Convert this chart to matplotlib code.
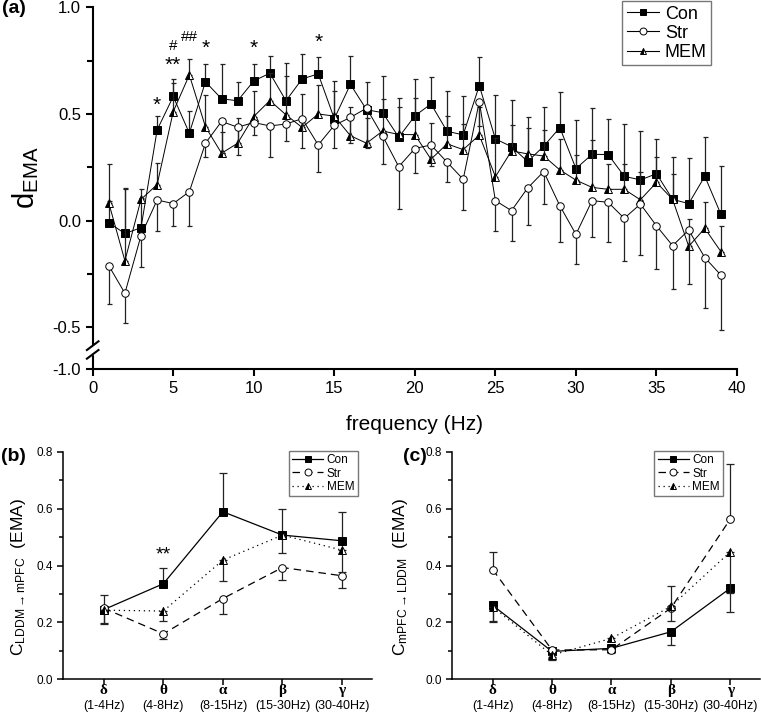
import matplotlib
matplotlib.use("Agg")
import matplotlib.pyplot as plt
from matplotlib.lines import Line2D
import numpy as np

plt.rcParams['font.family'] = ['Liberation Sans', 'DejaVu Sans']
plt.rcParams['mathtext.fontset'] = 'custom'
plt.rcParams['mathtext.rm'] = 'Liberation Sans'
plt.rcParams['mathtext.it'] = 'Liberation Sans:italic'

# ---- panel (a): d_EMA per frequency ----
freq = np.arange(1, 40)
con = [-0.01, -0.06, -0.033, 0.425, 0.582, 0.41, 0.651, 0.571, 0.562, 0.655,
       0.691, 0.562, 0.664, 0.688, 0.478, 0.639, 0.52, 0.506, 0.391, 0.491,
       0.547, 0.419, 0.402, 0.633, 0.383, 0.347, 0.277, 0.349, 0.436, 0.244,
       0.311, 0.31, 0.208, 0.191, 0.22, 0.1, 0.08, 0.208, 0.03]
con_err = [0.1, 0.21, 0.14, 0.065, 0.08, 0.105, 0.082, 0.165, 0.09, 0.078,
           0.083, 0.175, 0.117, 0.08, 0.175, 0.135, 0.13, 0.17, 0.183, 0.175,
           0.128, 0.19, 0.183, 0.135, 0.205, 0.217, 0.21, 0.183, 0.167, 0.23,
           0.219, 0.165, 0.244, 0.229, 0.162, 0.2, 0.212, 0.186, 0.226]
stre = [-0.211, -0.34, -0.07, 0.097, 0.08, 0.136, 0.363, 0.465, 0.438, 0.46,
        0.444, 0.453, 0.478, 0.355, 0.447, 0.484, 0.527, 0.397, 0.253, 0.338,
        0.355, 0.274, 0.194, 0.558, 0.094, 0.047, 0.153, 0.23, 0.07, -0.064,
        0.094, 0.086, 0.011, 0.078, -0.024, -0.117, -0.044, -0.173, -0.255]
str_err = [0.18, 0.14, 0.146, 0.146, 0.103, 0.161, 0.063, 0.15, 0.13, 0.06,
           0.144, 0.078, 0.136, 0.125, 0.105, 0.12, 0.188, 0.131, 0.198, 0.115,
           0.1, 0.094, 0.144, 0.114, 0.141, 0.141, 0.173, 0.152, 0.169, 0.141,
           0.172, 0.187, 0.199, 0.239, 0.202, 0.205, 0.253, 0.238, 0.257]
mem = [0.083, -0.188, 0.1, 0.169, 0.511, 0.683, 0.44, 0.316, 0.363, 0.488,
       0.563, 0.496, 0.437, 0.5, 0.49, 0.398, 0.363, 0.42, 0.404, 0.403,
       0.288, 0.36, 0.333, 0.401, 0.206, 0.327, 0.313, 0.303, 0.238, 0.19,
       0.156, 0.147, 0.147, 0.098, 0.179, 0.1, -0.12, -0.036, -0.145]
mem_err = [0.183, 0.34, 0.05, 0.1, 0.133, 0.074, 0.149, 0.1, 0.12, 0.12,
           0.13, 0.18, 0.157, 0.136, 0.12, 0.136, 0.12, 0.152, 0.13, 0.171,
           0.172, 0.13, 0.12, 0.13, 0.18, 0.12, 0.12, 0.12, 0.144, 0.12,
           0.222, 0.12, 0.12, 0.13, 0.12, 0.12, 0.13, 0.125, 0.12]

# significance marks: (frequency, y, text, size)
marks_a = [(4, 0.569, '*', 15), (5, 0.753, '**', 15), (5, 0.824, '#', 11),
           (6, 0.87, '##', 11), (7, 0.832, '*', 15), (10, 0.832, '*', 15),
           (14, 0.863, '*', 15)]

# ---- panels (b), (c): band coherence ----
bands = ['δ', 'θ', 'α', 'β', 'γ']
ranges = ['(1-4Hz)', '(4-8Hz)', '(8-15Hz)', '(15-30Hz)', '(30-40Hz)']
b_con = [0.245, 0.336, 0.589, 0.507, 0.487]
b_con_err = [0.052, 0.055, 0.135, 0.09, 0.1]
b_str = [0.25, 0.16, 0.284, 0.393, 0.364]
b_str_err = [0.052, 0.018, 0.056, 0.044, 0.042]
b_mem = [0.243, 0.24, 0.419, 0.507, 0.454]
b_mem_err = [0.05, 0.035, 0.074, 0.064, 0.076]

c_con = [0.26, 0.098, 0.109, 0.167, 0.32]
c_con_err = [0.057, 0.02, 0.018, 0.047, 0.085]
c_str = [0.386, 0.103, 0.104, 0.25, 0.563]
c_str_err = [0.063, 0.008, 0.01, 0.079, 0.193]
c_mem = [0.255, 0.085, 0.144, 0.256, 0.448]
c_mem_err = [0.05, 0.017, 0.01, 0.05, 0.146]

styles = {
    'Con': dict(marker='s', mfc='black', mec='black'),
    'Str': dict(marker='o', mfc='white', mec='black'),
    'MEM': dict(marker='^', mfc='black', mec='black', fillstyle='left',
                markerfacecoloralt='white'),
}


def series(ax, x, y, err, side, name, ls, ms, lw, cap, z):
    y = np.asarray(y)
    err = np.asarray(err)
    zero = np.zeros_like(err)
    yerr = [zero, err] if side == 'up' else [err, zero]
    ax.errorbar(x, y, yerr=yerr, fmt='none', ecolor='#222222', elinewidth=0.9,
                capsize=cap, capthick=0.9, zorder=z)
    ax.plot(x, y, color='black', ls=ls, lw=lw, ms=ms, mew=0.7, zorder=z + 0.5,
            **styles[name])


def legend_handles(ls_map, ms, lw):
    return [Line2D([], [], color='black', ls=ls_map[n], lw=lw, ms=ms, mew=0.7,
                   **styles[n]) for n in ['Con', 'Str', 'MEM']]


fig = plt.figure(figsize=(7.61, 7.2), dpi=100)

# ---------------- (a) ----------------
ax = fig.add_axes([0.1218, 0.4875, 0.8467, 0.5024])
series(ax, freq, con, con_err, 'up', 'Con', '-', 5.2, 0.7, 1.8, 2)
series(ax, freq, mem, mem_err, 'up', 'MEM', '-', 5.4, 0.7, 1.8, 3)
series(ax, freq, stre, str_err, 'down', 'Str', '-', 5.4, 0.7, 1.8, 4)

ybot = -0.695
ax.set_xlim(0, 40)
ax.set_ylim(ybot, 1.0)
ax.set_xticks([0, 5, 10, 15, 20, 25, 30, 35, 40])
ax.set_yticks([ybot, -0.5, 0.0, 0.5, 1.0])
ax.set_yticklabels(['-1.0', '-0.5', '0.0', '0.5', '1.0'])
ax.set_yticks([-0.25, 0.25, 0.75], minor=True)
for s in ['top', 'right']:
    ax.spines[s].set_visible(False)
for s in ['left', 'bottom']:
    ax.spines[s].set_linewidth(1.5)
ax.tick_params(which='major', direction='out', length=5, width=1.5, labelsize=12)
ax.tick_params(which='minor', direction='out', length=4, width=1.5)
ax.set_xlabel('frequency (Hz)', fontsize=15)
ax.xaxis.set_label_coords(0.5, -0.127)
ax.set_ylabel(r'd$_{\mathrm{EMA}}$', fontsize=21)
ax.yaxis.set_label_coords(-0.08, 0.53)

# axis break on the y axis
yb = (-0.606 - ybot) / (1.0 - ybot)
ax.add_patch(plt.Rectangle((-0.012, yb - 0.012), 0.024, 0.024, transform=ax.transAxes,
                           color='white', clip_on=False, zorder=5))
for dy in (-0.012, 0.012):
    ax.plot([-0.009, 0.009], [yb + dy - 0.012, yb + dy + 0.012], transform=ax.transAxes,
            color='black', lw=1.5, clip_on=False, zorder=6)

for f, yv, txt, fs in marks_a:
    off = -8 if '*' in txt else -4
    ax.annotate(txt, (f, yv), xytext=(0, off), textcoords='offset points',
                ha='center', va='baseline', fontsize=fs)

ax.legend(legend_handles({'Con': '-', 'Str': '-', 'MEM': '-'}, 5, 0.8),
          ['Con', 'Str', 'MEM'], loc='upper right', bbox_to_anchor=(0.96, 1.017),
          borderaxespad=0, fontsize=13, handlelength=1.8, handletextpad=0.3,
          labelspacing=0.12, borderpad=0.25, fancybox=False, edgecolor='#777777',
          framealpha=1, numpoints=1)
fig.text(0.018, 0.988, '(a)', fontsize=14, fontweight='bold', ha='center', va='center')


# ---------------- (b), (c) ----------------
def band_panel(rect, data, sides, ylabel, leg_anchor, label_x):
    ax = fig.add_axes(rect)
    x = np.arange(1, 6)
    lsd = {'Con': '-', 'Str': (0, (6, 4)), 'MEM': (0, (1, 3))}
    z = 2
    for name in ['Con', 'Str', 'MEM']:
        y, e = data[name]
        series(ax, x, y, e, sides[name], name, lsd[name], 5.5, 0.9, 3, z)
        z += 1
    ax.set_xlim(0.32, 5.5)
    ax.set_ylim(0, 0.8)
    ax.set_xticks(x)
    ax.set_xticklabels([''] * 5)
    ax.set_yticks([0, 0.2, 0.4, 0.6, 0.8])
    ax.set_yticks([0.1, 0.3, 0.5, 0.7], minor=True)
    for s in ['top', 'right']:
        ax.spines[s].set_visible(False)
    for s in ['left', 'bottom']:
        ax.spines[s].set_linewidth(1.1)
    ax.tick_params(which='major', direction='out', length=4, width=1.1, labelsize=8.5)
    ax.tick_params(which='minor', direction='out', length=3, width=1.1)
    tr = ax.get_xaxis_transform()
    for xi, g, r in zip(x, bands, ranges):
        ax.text(xi, -0.047, g, transform=tr, ha='center', va='center', fontsize=11,
                family='Liberation Serif', fontweight='bold')
        ax.text(xi, -0.118, r, transform=tr, ha='center', va='center', fontsize=9)
    ax.set_ylabel(ylabel, fontsize=12.5)
    ax.yaxis.set_label_coords(label_x, 0.45)
    ax.legend(legend_handles(lsd, 5, 0.9), ['Con', 'Str', 'MEM'], loc='upper right',
              bbox_to_anchor=(leg_anchor, 1.004), borderaxespad=0, fontsize=8.5,
              handlelength=2.6, handletextpad=0.3, labelspacing=0.1, borderpad=0.3,
              fancybox=False, edgecolor='#777777', framealpha=1, numpoints=1)
    return ax


axb = band_panel([0.0832, 0.0565, 0.4053, 0.3161],
                 {'Con': (b_con, b_con_err), 'Str': (b_str, b_str_err),
                  'MEM': (b_mem, b_mem_err)},
                 {'Con': 'up', 'Str': 'down', 'MEM': 'down'},
                 r'C$_{\mathrm{LDDM}\rightarrow\mathrm{mPFC}}$  (EMA)', 0.955, -0.115)
axb.annotate('**', (2, 0.46), xytext=(0, -8), textcoords='offset points',
             ha='center', va='baseline', fontsize=14)

axc = band_panel([0.5943, 0.0565, 0.4043, 0.3161],
                 {'Con': (c_con, c_con_err), 'Str': (c_str, c_str_err),
                  'MEM': (c_mem, c_mem_err)},
                 {'Con': 'down', 'Str': 'up', 'MEM': 'down'},
                 r'C$_{\mathrm{mPFC}\rightarrow\mathrm{LDDM}}$  (EMA)', 0.881, -0.137)

fig.text(0.018, 0.366, '(b)', fontsize=14, fontweight='bold', ha='center', va='center')
fig.text(0.545, 0.366, '(c)', fontsize=14, fontweight='bold', ha='center', va='center')

fig.savefig('out.png', dpi=100)
